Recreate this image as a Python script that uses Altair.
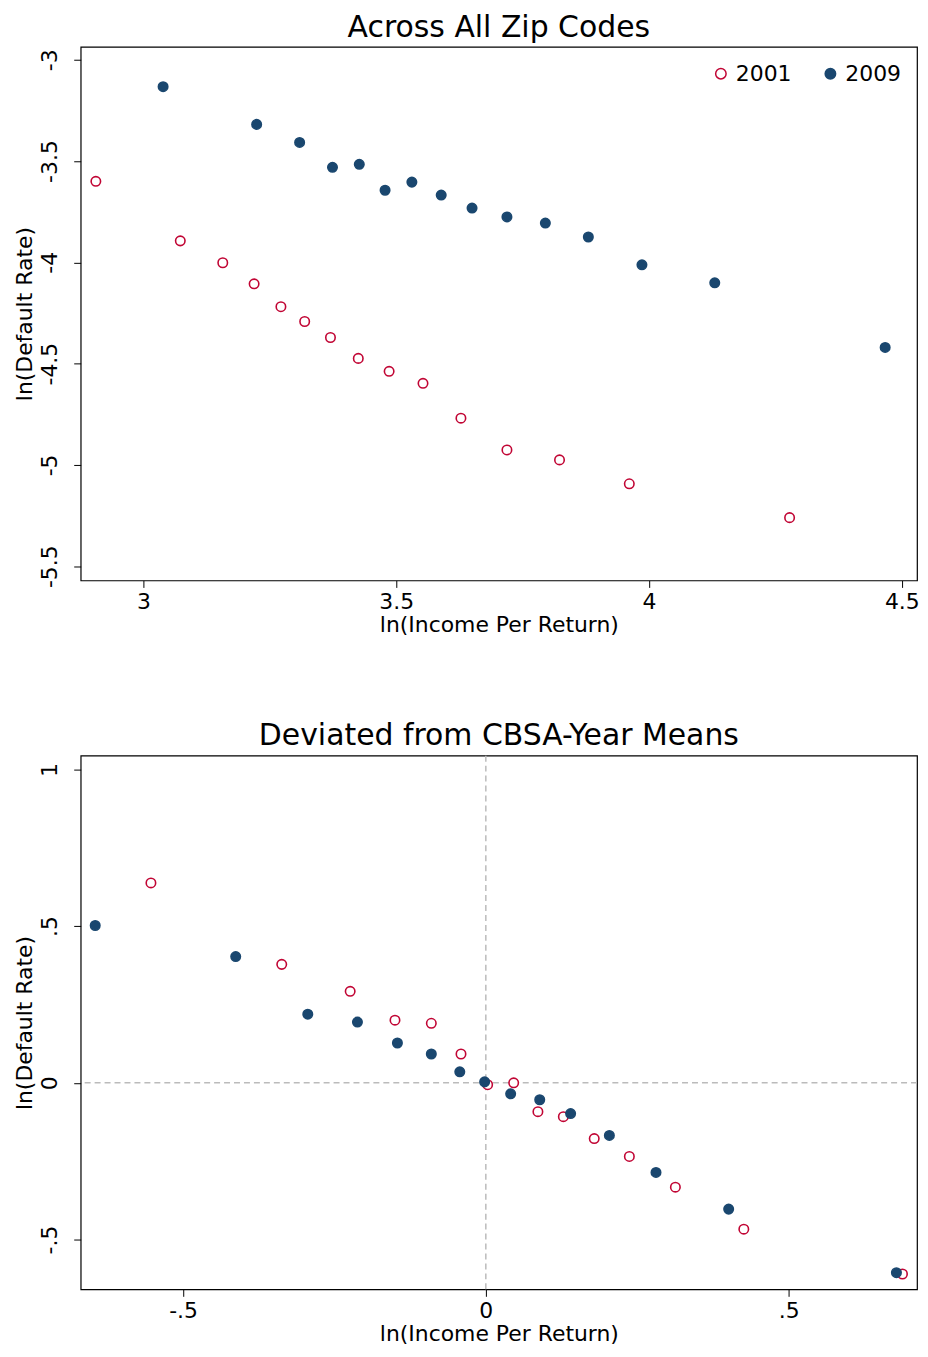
import altair as alt
import pandas as pd

years = ["2001", "2009"]

# Across all zip codes
top_x_2001 = [2.906, 3.073, 3.157, 3.219, 3.272, 3.319, 3.370, 3.425, 3.486, 3.553, 3.628, 3.719, 3.823, 3.961, 4.278]
top_y_2001 = [-3.60, -3.894, -4.002, -4.106, -4.219, -4.292, -4.371, -4.474, -4.538, -4.597, -4.769, -4.926, -4.975, -5.093, -5.260]
top_x_2009 = [3.039, 3.224, 3.309, 3.374, 3.427, 3.478, 3.531, 3.589, 3.650, 3.719, 3.795, 3.880, 3.986, 4.130, 4.467]
top_y_2009 = [-3.133, -3.319, -3.408, -3.531, -3.516, -3.644, -3.604, -3.668, -3.732, -3.776, -3.806, -3.875, -4.012, -4.101, -4.420]

# Deviated from CBSA-year means
bot_x_2001 = [-0.553, -0.337, -0.224, -0.150, -0.090, -0.041, 0.003, 0.046, 0.086, 0.128, 0.179, 0.237, 0.313, 0.426, 0.688]
bot_y_2001 = [0.638, 0.378, 0.292, 0.200, 0.190, 0.092, -0.006, 0.0, -0.092, -0.108, -0.178, -0.235, -0.333, -0.467, -0.610]
bot_x_2009 = [-0.645, -0.413, -0.294, -0.212, -0.146, -0.090, -0.043, -0.002, 0.041, 0.089, 0.140, 0.204, 0.281, 0.401, 0.678]
bot_y_2009 = [0.502, 0.403, 0.219, 0.194, 0.127, 0.092, 0.035, 0.003, -0.035, -0.054, -0.098, -0.168, -0.286, -0.403, -0.606]

RED = "#c10534"
NAVY = "#1a476f"
LABEL_EXPR = "replace(toString(datum.value), '0.', '.')"


def make_df(x1, y1, x2, y2):
    return pd.concat([
        pd.DataFrame({"x": x1, "y": y1, "year": "2001"}),
        pd.DataFrame({"x": x2, "y": y2, "year": "2009"}),
    ])


def scatter(df, title, xdom, ydom, xticks, yticks, zero_lines=False):
    pts = alt.Chart(df).mark_point(size=90, strokeWidth=1.6, opacity=1, shape="circle").encode(
        x=alt.X("x:Q", title="ln(Income Per Return)", scale=alt.Scale(domain=xdom, nice=False, zero=False),
                axis=alt.Axis(values=xticks, labelExpr=LABEL_EXPR)),
        y=alt.Y("y:Q", title="ln(Default Rate)", scale=alt.Scale(domain=ydom, nice=False, zero=False),
                axis=alt.Axis(values=yticks, labelExpr=LABEL_EXPR, labelAngle=270,
                              labelAlign="center", labelBaseline="bottom", labelPadding=12)),
        color=alt.Color("year:N", title=None, scale=alt.Scale(domain=years, range=[RED, NAVY]),
                        legend=alt.Legend(orient="top-right", direction="horizontal", labelFontSize=22,
                                          symbolSize=110, columnPadding=28, padding=12, offset=4)),
        fill=alt.Fill("year:N", title=None, scale=alt.Scale(domain=years, range=["white", NAVY])),
    )
    layers = []
    if zero_lines:
        rules = pd.DataFrame({"v": [0]})
        layers.append(alt.Chart(rules).mark_rule(color="#bbbbbb", strokeDash=[6, 4], strokeWidth=1.5).encode(x="v:Q"))
        layers.append(alt.Chart(rules).mark_rule(color="#bbbbbb", strokeDash=[6, 4], strokeWidth=1.5).encode(y="v:Q"))
    layers.append(pts)
    return alt.layer(*layers).properties(
        width=840, height=536,
        title=alt.TitleParams(title, fontSize=30, fontWeight="normal", font="DejaVu Sans", offset=4),
    )


top = scatter(make_df(top_x_2001, top_y_2001, top_x_2009, top_y_2009), "Across All Zip Codes",
              [2.876, 4.53], [-5.57, -2.936], [3, 3.5, 4, 4.5], [-3, -3.5, -4, -4.5, -5, -5.5])
bottom = scatter(make_df(bot_x_2001, bot_y_2001, bot_x_2009, bot_y_2009), "Deviated from CBSA-Year Means",
                 [-0.669, 0.712], [-0.659, 1.044], [-0.5, 0, 0.5], [1, 0.5, 0, -0.5], zero_lines=True)

chart = alt.vconcat(top, bottom, spacing=84).properties(
    padding={"left": 5, "top": 1, "right": 0, "bottom": 5}
).configure_view(
    stroke="black", strokeWidth=1.2
).configure_axis(
    grid=False, domain=False, labelFontSize=22, titleFontSize=22, labelFont="DejaVu Sans",
    titleFont="DejaVu Sans", labelColor="black", titleColor="black", tickColor="black",
    titleFontWeight="normal", tickSize=7, labelPadding=4, titlePadding=2,
).configure_legend(labelFont="DejaVu Sans", labelColor="black")

chart.save("out.html", embed_options={"renderer": "svg", "actions": False})
